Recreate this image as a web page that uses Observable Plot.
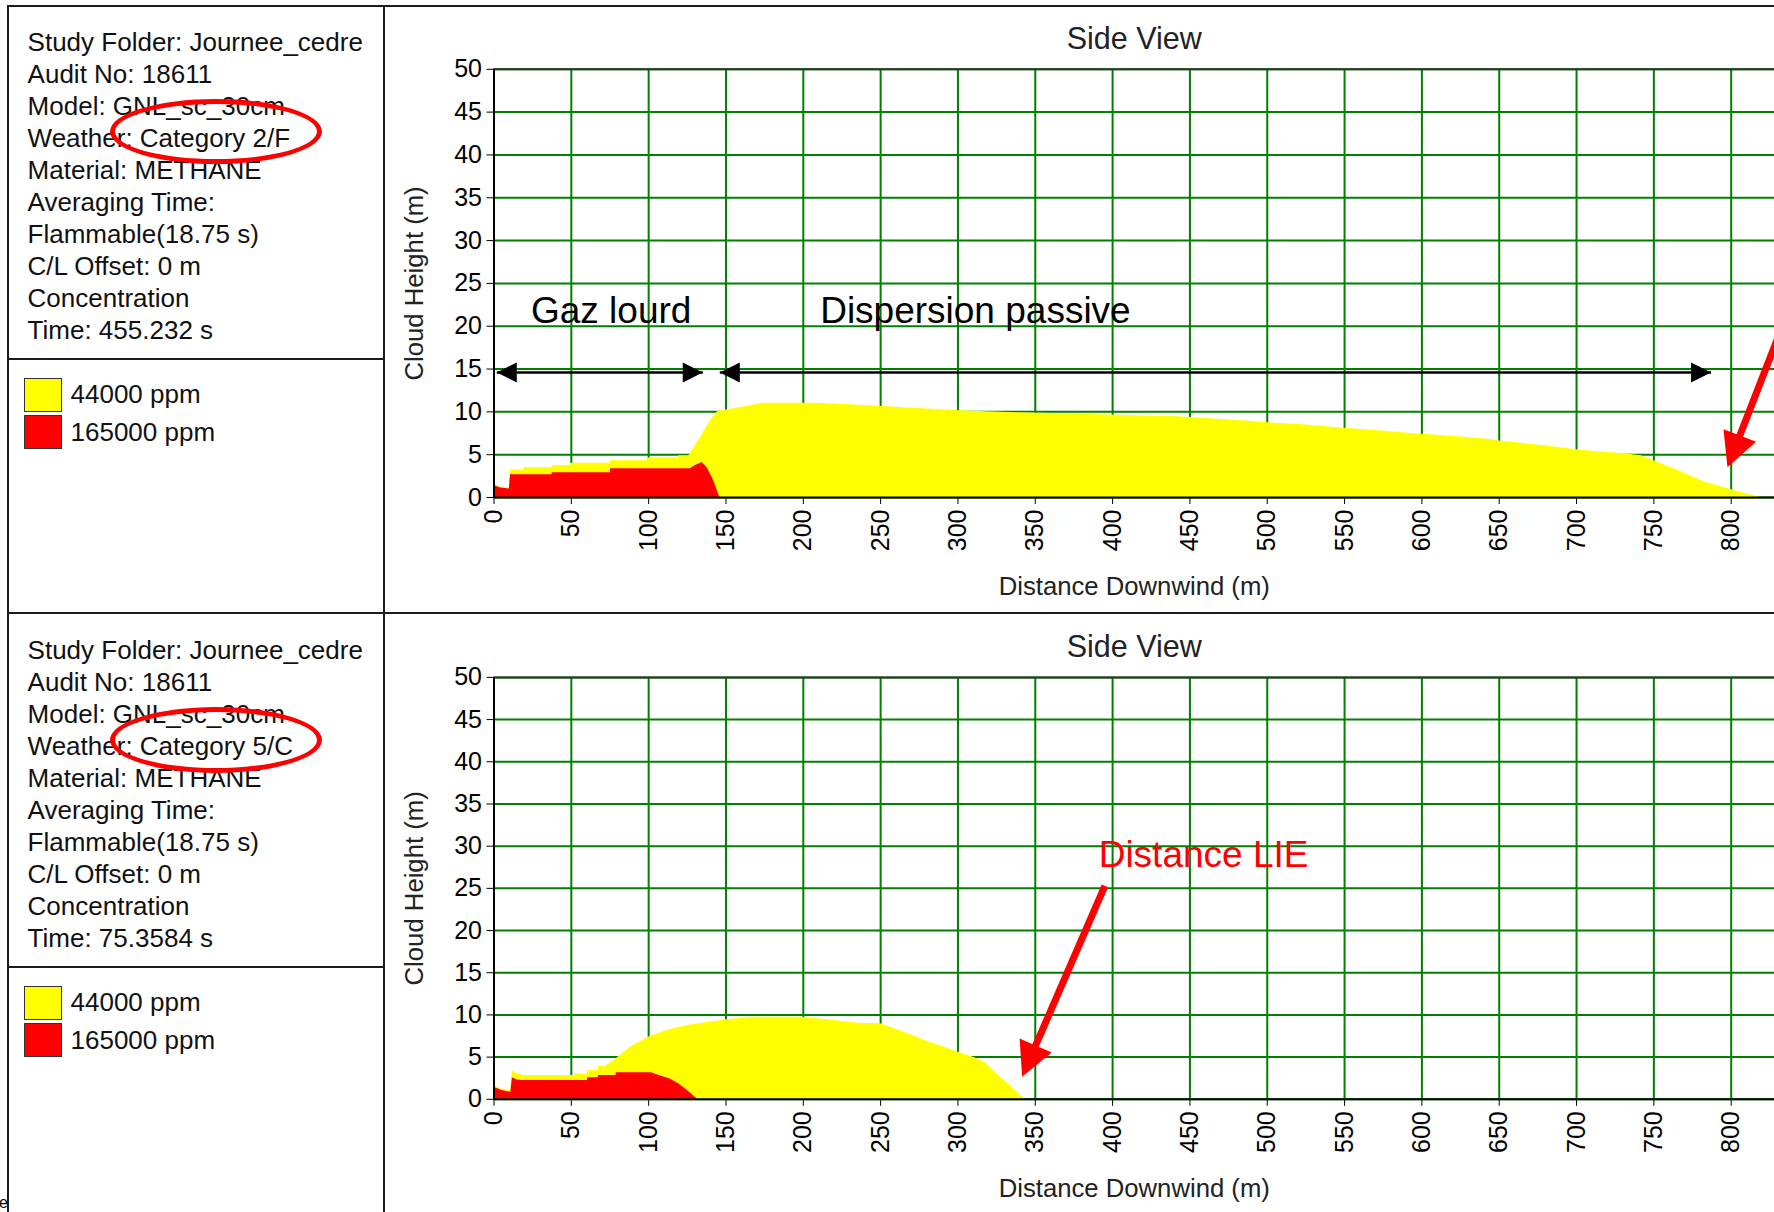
<!DOCTYPE html>
<html>
<head>
<meta charset="utf-8">
<script src="https://cdn.jsdelivr.net/npm/d3@7"></script>
<script src="https://cdn.jsdelivr.net/npm/@observablehq/plot@0.6"></script>
<style>
  html, body { margin: 0; padding: 0; background: #fff; }
  body { width: 1774px; height: 1212px; position: relative; overflow: hidden;
         font-family: "Liberation Sans", Arial, sans-serif; }
  .ln { position: absolute; background: #1c1c1c; }
  .info { position: absolute; left: 27.6px; font-size: 26px; line-height: 32px; color: #111; white-space: nowrap; }
  .legend { position: absolute; left: 23.5px; font-size: 26px; color: #111; white-space: nowrap; }
  .legend .row { display: flex; align-items: center; height: 37.5px; }
  .legend .sw { width: 38px; height: 34px; box-sizing: border-box; border: 1.5px solid #333; margin-right: 9px; }
  .ell { position: absolute; border: 5.5px solid #ff0000; border-radius: 50%; box-sizing: border-box; }
  .chart { position: absolute; left: 386px; width: 1388px; overflow: hidden; }
  .chart svg { display: block; }
  .frag { position: absolute; left: -1px; top: 1194px; font-size: 16px; color: #000; }
</style>
</head>
<body>
<script>
// ---------------- DATA ----------------
const xTicks = [0, 50, 100, 150, 200, 250, 300, 350, 400, 450, 500, 550, 600, 650, 700, 750, 800];
const yTicks = [0, 5, 10, 15, 20, 25, 30, 35, 40, 45, 50];
const xDomain = [0, 828];
const yDomain = [0, 50];

const legendLabels = ["44000 ppm", "165000 ppm"];
const legendColors = ["#ffff00", "#ff0000"];

const infoTop = ["Study Folder: Journee_cedre", "Audit No: 18611", "Model: GNL_sc_30cm", "Weather: Category 2/F",
  "Material: METHANE", "Averaging Time:", "Flammable(18.75 s)", "C/L Offset: 0 m", "Concentration", "Time: 455.232 s"];
const infoBottom = ["Study Folder: Journee_cedre", "Audit No: 18611", "Model: GNL_sc_30cm", "Weather: Category 5/C",
  "Material: METHANE", "Averaging Time:", "Flammable(18.75 s)", "C/L Offset: 0 m", "Concentration", "Time: 75.3584 s"];

// Weather 2/F — cloud height (m) vs distance downwind (m)
const dist2F_yellow = [0, 4.3, 9.9, 10.7, 19.4, 19.4, 37.6, 37.6, 49.4, 49.4, 75.3, 75.3, 99, 99, 119.5, 119.5, 126,
  133.5, 140, 144.7, 155, 168, 174, 209, 233, 252, 276.5, 308.5, 340.5, 391.4, 442.3, 463, 481.8, 500.6, 523.3, 542,
  559, 576, 591, 610, 625, 642, 651, 664.6, 676, 687, 698.4, 711.7, 730.5, 741.8, 764.4, 783.2, 802, 819];
const height2F_yellow = [1.5, 1.2, 1.1, 3.2, 3.2, 3.46, 3.46, 3.73, 3.73, 4.0, 4.0, 4.3, 4.3, 4.6, 4.6, 4.87, 4.87,
  7.0, 9.0, 10.05, 10.36, 10.8, 11.0, 11.0, 10.8, 10.63, 10.36, 10.08, 9.89, 9.66, 9.43, 9.19, 9.0, 8.72, 8.49, 8.21,
  7.98, 7.75, 7.51, 7.28, 7.05, 6.81, 6.58, 6.34, 6.11, 5.88, 5.6, 5.37, 5.1, 4.87, 3.23, 1.79, 0.82, 0];
const dist2F_red = [0, 4.3, 9.9, 10.7, 37.6, 37.6, 75.3, 75.3, 127, 130.3, 134.6, 137.8, 141, 143.2, 146];
const height2F_red = [1.4, 1.1, 1.0, 2.65, 2.65, 2.88, 2.88, 3.35, 3.35, 3.74, 4.1, 3.47, 2.37, 1.4, 0];

// Weather 5/C
const dist5C_yellow = [0, 5.1, 10.9, 11.9, 14.2, 19, 52.4, 52.4, 60.5, 60.5, 67.5, 67.5, 72, 79, 88.3, 99.8, 111.4,
  125.1, 139, 150.5, 169, 199, 215, 224.4, 235, 250, 259, 267.7, 278.5, 289.3, 301.2, 310.9, 317.3, 323.8, 332.4, 343.2];
const height5C_yellow = [1.6, 1.2, 1.0, 3.41, 3.1, 2.82, 2.82, 3.0, 3.0, 3.41, 3.41, 3.88, 3.88, 4.8, 6.17, 7.36, 8.15,
  8.74, 9.14, 9.42, 9.73, 9.73, 9.42, 9.25, 9.02, 8.95, 8.35, 7.76, 6.97, 6.29, 5.51, 4.92, 4.4, 3.21, 1.84, 0];
const dist5C_red = [0, 5.1, 10.9, 11.9, 15, 19, 60.5, 60.5, 67.5, 67.5, 79, 79, 102, 106.7, 113.6, 119.4, 125.1, 131.6];
const height5C_red = [1.43, 1.04, 0.84, 2.54, 2.3, 2.23, 2.23, 2.54, 2.54, 2.82, 2.82, 3.14, 3.14, 2.82, 2.43, 1.83, 1.04, 0];

// annotations (data units: m downwind, m height)
const notes2F = [
  {x: 23.9, y: 20.4, text: "Gaz lourd"},
  {x: 210.9, y: 20.4, text: "Dispersion passive"}
];
const spans2F = [
  {x1: 1.8, x2: 135, y: 14.6},
  {x1: 146, x2: 787, y: 14.6}
];
const pointer2F = [{x1: 843.8, y1: 25, x2: 797.6, y2: 3.54}];
const notes5C = [{x: 391, y: 27.5, text: "Distance LIE"}];
const pointer5C = [{x1: 395, y1: 25.3, x2: 341.5, y2: 2.68}];

// ---------------- LAYOUT ----------------
function addDiv(cls, css, html) {
  const d = document.createElement("div");
  d.className = cls;
  Object.assign(d.style, css);
  if (html != null) d.innerHTML = html;
  document.body.appendChild(d);
  return d;
}
function px(v) { return v + "px"; }

// frame lines
addDiv("ln", {left: px(7), top: px(4.5), width: px(1767), height: px(2)});
addDiv("ln", {left: px(7), top: px(4.5), width: px(2), height: px(1208)});
addDiv("ln", {left: px(383), top: px(4.5), width: px(2), height: px(1208)});
addDiv("ln", {left: px(7), top: px(612), width: px(1767), height: px(2)});
addDiv("ln", {left: px(7), top: px(358), width: px(377), height: px(2)});
addDiv("ln", {left: px(7), top: px(966), width: px(377), height: px(2)});

function infoBlock(lines, top) {
  const d = addDiv("info", {top: px(top)});
  lines.forEach(t => { const r = document.createElement("div"); r.textContent = t; d.appendChild(r); });
}
function legendBlock(top) {
  const d = addDiv("legend", {top: px(top)});
  legendLabels.forEach((t, i) => {
    const r = document.createElement("div"); r.className = "row";
    const s = document.createElement("div"); s.className = "sw"; s.style.background = legendColors[i];
    const l = document.createElement("span"); l.textContent = t;
    r.appendChild(s); r.appendChild(l); d.appendChild(r);
  });
}
infoBlock(infoTop, 25.6);
infoBlock(infoBottom, 633.8);
legendBlock(375.9);
legendBlock(983.9);
addDiv("ell", {left: px(109.5), top: px(98.5), width: px(212), height: px(65)});
addDiv("ell", {left: px(109.5), top: px(706.5), width: px(212), height: px(66)});
addDiv("frag", {}, "e");

// ---------------- CHARTS ----------------
const GRID = "#008000", YELLOW = "#ffff00", RED = "#ff0000";
const FONT = "'Liberation Sans', Arial, sans-serif";

function headSymbol(len, half) {
  return { draw(ctx) { ctx.moveTo(0, 0); ctx.lineTo(half, len); ctx.lineTo(-half, len); ctx.closePath(); } };
}

function sideView(cfg) {
  const W = 1388, ML = 107.5, MR = 0;
  const {height, marginTop, marginBottom} = cfg;
  const kx = (W - ML - MR) / (xDomain[1] - xDomain[0]);
  const ky = (height - marginTop - marginBottom) / (yDomain[1] - yDomain[0]);
  const yellow = cfg.yellowX.map((x, i) => ({x, h: cfg.yellowH[i]}));
  const red = cfg.redX.map((x, i) => ({x, h: cfg.redH[i]}));

  const marks = [
    Plot.ruleX(xTicks, {stroke: GRID, strokeWidth: 2}),
    Plot.ruleY(yTicks, {stroke: GRID, strokeWidth: 2}),
    Plot.areaY(yellow, {x: "x", y1: () => 0, y2: "h", fill: YELLOW}),
    Plot.areaY(red, {x: "x", y1: () => 0, y2: "h", fill: RED}),
    Plot.ruleY([yDomain[1]], {stroke: "#333", strokeWidth: 2}),
    Plot.ruleX([0], {stroke: "#000", strokeWidth: 2}),
    Plot.ruleY([0], {stroke: "#000", strokeWidth: 2}),
    Plot.text(["Side View"], {frameAnchor: "top", dy: -30.3, text: d => d, fontSize: 30.5, textAnchor: "middle", lineAnchor: "middle", fill: "#222"}),
    Plot.text(["Distance Downwind (m)"], {frameAnchor: "bottom", dy: 89, text: d => d, fontSize: 25.7, textAnchor: "middle", lineAnchor: "middle", fill: "#222"}),
    Plot.text(["Cloud Height (m)"], {frameAnchor: "left", dx: -79.5, rotate: -90, text: d => d, fontSize: 25.7, textAnchor: "middle", lineAnchor: "middle", fill: "#222"})
  ];

  if (cfg.spans) {
    marks.push(Plot.link(cfg.spans, {x1: "x1", x2: "x2", y1: "y", y2: "y", stroke: "#000", strokeWidth: 2.5}));
    marks.push(Plot.dot(cfg.spans, {x: "x1", y: "y", symbol: headSymbol(20, 10), rotate: -90, r: 10, fill: "#000", stroke: "none"}));
    marks.push(Plot.dot(cfg.spans, {x: "x2", y: "y", symbol: headSymbol(20, 10), rotate: 90, r: 10, fill: "#000", stroke: "none"}));
  }
  if (cfg.pointer) {
    const HL = 34, HW = 17.5;
    const ptr = cfg.pointer.map(p => {
      const vx = (p.x2 - p.x1) * kx, vy = -(p.y2 - p.y1) * ky;
      const L = Math.hypot(vx, vy), ux = vx / L, uy = vy / L;
      return {
        ...p,
        angle: Math.atan2(ux, -uy) * 180 / Math.PI,
        bx: p.x2 - 0.85 * HL * ux / kx,
        by: p.y2 + 0.85 * HL * uy / ky
      };
    });
    marks.push(Plot.link(ptr, {x1: "x1", y1: "y1", x2: "bx", y2: "by", stroke: RED, strokeWidth: 7}));
    marks.push(Plot.dot(ptr, {x: "x2", y: "y2", symbol: headSymbol(HL, HW), rotate: "angle", r: 12, fill: RED, stroke: "none"}));
  }
  if (cfg.notes) {
    marks.push(Plot.text(cfg.notes, {x: "x", y: "y", text: "text", fontSize: 37, textAnchor: "start",
      lineAnchor: "bottom", fill: cfg.noteColor, fontFamily: FONT}));
  }

  return Plot.plot({
    width: W, height, marginLeft: ML, marginRight: MR, marginTop, marginBottom,
    x: {domain: xDomain, ticks: xTicks, tickRotate: -90, tickSize: 7, tickPadding: 5, label: null},
    y: {domain: yDomain, ticks: yTicks, tickSize: 7, tickPadding: 5, label: null},
    style: {fontFamily: FONT, fontSize: "25px", color: "#000", background: "transparent", overflow: "visible"},
    marks
  });
}

function mountChart(svg, top, height) {
  const c = addDiv("chart", {top: px(top), height: px(height)});
  c.appendChild(svg);
}

mountChart(sideView({
  height: 604, marginTop: 61.8, marginBottom: 114,
  yellowX: dist2F_yellow, yellowH: height2F_yellow, redX: dist2F_red, redH: height2F_red,
  notes: notes2F, noteColor: "#000", spans: spans2F, pointer: pointer2F
}), 7, 604);

mountChart(sideView({
  height: 597, marginTop: 61.9, marginBottom: 113.2,
  yellowX: dist5C_yellow, yellowH: height5C_yellow, redX: dist5C_red, redH: height5C_red,
  notes: notes5C, noteColor: RED, pointer: pointer5C
}), 615, 597);
</script>
</body>
</html>
